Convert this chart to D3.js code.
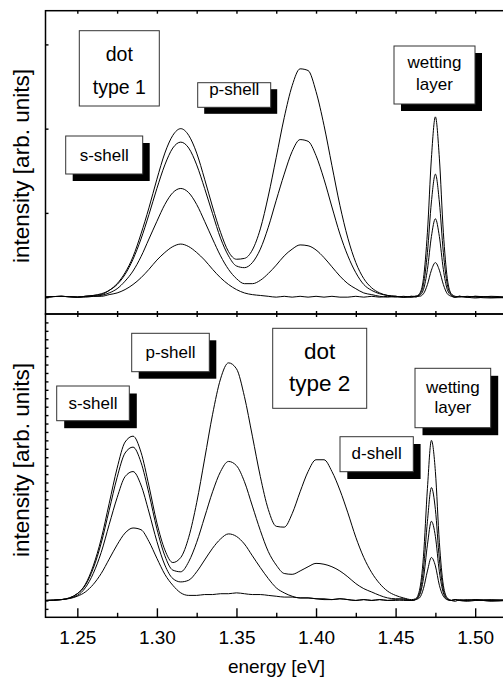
<!DOCTYPE html>
<html>
<head>
<meta charset="utf-8">
<script src="https://cdn.jsdelivr.net/npm/d3@7/dist/d3.min.js"></script>
<style>
body{margin:0;background:#fff}
svg{display:block;font-family:"Liberation Sans",Arial,sans-serif}
.trace{fill:none;stroke:#000;stroke-width:1;stroke-linejoin:round}
.tick line{stroke:#000;stroke-width:1.4}
</style>
</head>
<body>
<div id="container"></div>
<script>
// photon energy grid [eV], shared by all spectra
var energy = [1.23,1.24,1.25,1.255,1.26,1.265,1.27,1.275,1.28,1.285,
	1.29,1.295,1.30,1.305,1.31,1.315,1.32,1.325,1.33,1.335,
	1.34,1.345,1.35,1.355,1.36,1.365,1.37,1.375,1.38,1.385,
	1.39,1.395,1.40,1.405,1.41,1.415,1.42,1.425,1.43,1.435,
	1.44,1.445,1.45,1.455,1.46,1.4625,1.465,1.4675,1.47,1.4725,
	1.475,1.4775,1.48,1.4825,1.485,1.4875,1.49,1.495,1.50,1.51,1.52];

// dot type 1, four excitation powers (arb. units)
var top1 = [0.00,0.01,0.00,0.01,0.02,0.04,0.08,0.16,0.29,0.48,
	0.75,1.06,1.40,1.71,1.92,2.00,1.92,1.71,1.40,1.07,
	0.77,0.54,0.45,0.46,0.56,0.81,1.20,1.66,2.13,2.51,
	2.71,2.69,2.44,2.04,1.56,1.09,0.70,0.41,0.22,0.11,
	0.05,0.02,0.01,0.00,0.01,0.01,0.04,0.22,0.77,1.65,
	2.14,1.65,0.77,0.22,0.04,0.01,0.00,0.01,0.00,-0.01,0.00];
var top2 = [0.00,0.01,0.00,0.01,0.02,0.03,0.08,0.15,0.27,0.45,
	0.69,0.98,1.29,1.57,1.77,1.84,1.77,1.57,1.29,0.99,
	0.70,0.49,0.37,0.35,0.41,0.57,0.83,1.15,1.46,1.73,
	1.87,1.85,1.68,1.40,1.07,0.75,0.49,0.29,0.15,0.08,
	0.04,0.02,0.01,0.00,0.01,0.00,0.03,0.15,0.53,1.13,
	1.46,1.13,0.53,0.15,0.03,0.00,0.01,0.00,0.01,0.00,-0.01];
var top3 = [0.00,0.01,0.00,0.00,0.01,0.02,0.05,0.10,0.19,0.31,
	0.48,0.69,0.90,1.10,1.24,1.29,1.24,1.10,0.90,0.69,
	0.49,0.33,0.22,0.16,0.16,0.20,0.28,0.38,0.49,0.57,
	0.62,0.61,0.56,0.47,0.36,0.25,0.16,0.10,0.05,0.03,
	0.01,0.00,0.01,0.00,0.00,0.01,0.02,0.09,0.33,0.72,
	0.93,0.72,0.33,0.09,0.02,0.00,0.01,0.00,-0.01,0.01,0.00];
var top4 = [0.00,0.01,0.00,0.01,0.01,0.01,0.03,0.05,0.09,0.15,
	0.23,0.33,0.44,0.53,0.60,0.63,0.60,0.53,0.44,0.33,
	0.23,0.15,0.09,0.05,0.03,0.02,0.01,0.00,0.01,0.00,
	0.01,0.00,0.01,0.00,0.01,0.00,0.00,0.01,0.00,0.01,
	0.00,0.01,0.00,0.01,0.00,0.01,0.01,0.04,0.15,0.32,
	0.41,0.32,0.15,0.04,0.01,0.00,0.01,0.00,0.01,0.00,0.00];

// dot type 2
var bot1 = [0.00,0.01,0.08,0.19,0.41,0.73,1.15,1.57,1.88,1.95,
	1.76,1.36,0.92,0.60,0.45,0.51,0.75,1.16,1.68,2.21,
	2.63,2.82,2.75,2.42,1.95,1.47,1.08,0.88,0.87,1.03,
	1.29,1.53,1.67,1.67,1.53,1.31,1.04,0.75,0.51,0.33,
	0.20,0.11,0.06,0.03,0.01,0.02,0.12,0.52,1.33,1.90,
	1.53,0.69,0.18,0.03,0.00,0.01,0.00,-0.01,0.00,0.01,0.00];
var bot2 = [0.00,0.01,0.08,0.18,0.38,0.68,1.07,1.46,1.75,1.82,
	1.64,1.27,0.85,0.53,0.36,0.34,0.46,0.69,0.99,1.29,
	1.53,1.65,1.60,1.41,1.12,0.83,0.58,0.42,0.32,0.31,
	0.35,0.40,0.44,0.43,0.40,0.35,0.28,0.20,0.14,0.10,
	0.06,0.03,0.02,0.02,0.00,0.01,0.08,0.37,0.94,1.34,
	1.08,0.49,0.13,0.02,0.00,-0.01,0.01,0.00,0.01,0.00,0.00];
var bot3 = [0.00,0.01,0.06,0.15,0.32,0.57,0.90,1.22,1.47,1.53,
	1.37,1.05,0.70,0.42,0.26,0.22,0.24,0.34,0.48,0.62,
	0.73,0.79,0.76,0.67,0.53,0.39,0.26,0.15,0.09,0.05,
	0.03,0.03,0.02,0.01,0.01,0.02,0.01,0.00,0.01,0.00,
	0.01,0.00,0.01,0.00,0.00,0.01,0.06,0.26,0.66,0.94,
	0.76,0.34,0.09,0.01,0.00,0.01,0.00,0.00,0.01,-0.01,0.00];
var bot4 = [0.00,0.01,0.05,0.10,0.19,0.32,0.49,0.66,0.80,0.86,
	0.84,0.70,0.50,0.31,0.18,0.09,0.06,0.06,0.07,0.07,
	0.08,0.08,0.09,0.08,0.07,0.07,0.06,0.05,0.04,0.04,
	0.03,0.03,0.02,0.02,0.01,0.02,0.01,0.00,0.01,0.00,
	0.01,0.00,0.00,0.01,0.00,0.01,0.03,0.14,0.35,0.51,
	0.41,0.18,0.05,0.01,0.00,0.01,0.00,0.01,0.00,0.00,0.01];

var xMajor = [1.25,1.30,1.35,1.40,1.45,1.50];
var xMinor = [1.275,1.325,1.375,1.425,1.475];
var yTopTicks = [0,1,2,3];
var xTitle = "energy [eV]";
var yTitle = "intensity [arb. units]";

var width = 503, height = 679;
var left = 45.5, right = 507;
var topY0 = 10.7, midY = 314, botY1 = 617.3;

function init(){
	var svg = d3.select("#container").append("svg")
		.attr("width", width)
		.attr("height", height);

	var x = d3.scaleLinear().domain([1.23, 1.52]).range([left, right]);
	var yTop = d3.scaleLinear().domain([-0.2, 3.4]).range([midY, topY0]);
	var yBot = d3.scaleLinear().domain([-0.2, 3.4]).range([botY1, midY]);
	var xAll = xMajor.concat(xMinor);
	var yBotTicks = d3.range(-1, 34).map(function(v){ return v/10; });

	function noDomain(g){ g.select(".domain").remove(); }

	// small inward ticks on the top border and on the divider
	svg.append("g").attr("transform", "translate(0," + topY0 + ")")
		.call(d3.axisBottom(x).tickValues(xAll).tickSize(3).tickFormat(""))
		.call(noDomain);
	svg.append("g").attr("transform", "translate(0," + midY + ")")
		.call(d3.axisTop(x).tickValues(xAll).tickSize(3).tickFormat(""))
		.call(noDomain);
	svg.append("g").attr("transform", "translate(0," + midY + ")")
		.call(d3.axisBottom(x).tickValues(xAll).tickSize(3).tickFormat(""))
		.call(noDomain);

	// bottom energy axis
	svg.append("g").attr("transform", "translate(0," + botY1 + ")")
		.call(d3.axisTop(x).tickValues(xMajor).tickSize(9).tickFormat(""))
		.call(noDomain);
	svg.append("g").attr("transform", "translate(0," + botY1 + ")")
		.call(d3.axisTop(x).tickValues(xMinor).tickSize(4.5).tickFormat(""))
		.call(noDomain);
	svg.append("g").attr("transform", "translate(0," + botY1 + ")")
		.call(d3.axisBottom(x).tickValues(xMajor).tickSize(0).tickPadding(13).tickFormat(d3.format(".2f")))
		.call(noDomain)
		.selectAll("text")
		.style("font-size", "19px")
		.style("font-family", "Liberation Sans, Arial, sans-serif")
		.attr("fill", "#000");

	// intensity axes, ticks only
	svg.append("g").attr("transform", "translate(" + left + ",0)")
		.call(d3.axisRight(yTop).tickValues(yTopTicks).tickSize(3).tickFormat(""))
		.call(noDomain);
	svg.append("g").attr("transform", "translate(" + left + ",0)")
		.call(d3.axisRight(yBot).tickValues(yBotTicks).tickSize(3).tickFormat(""))
		.call(noDomain);

	// spectra
	var lineTop = d3.line()
		.x(function(d, i){ return x(energy[i]); })
		.y(function(d){ return yTop(d); })
		.curve(d3.curveMonotoneX);
	var lineBot = d3.line()
		.x(function(d, i){ return x(energy[i]); })
		.y(function(d){ return yBot(d); })
		.curve(d3.curveMonotoneX);

	svg.append("g").selectAll("path")
		.data([top4, top3, top2, top1]).enter()
		.append("path")
		.attr("class", "trace")
		.attr("d", lineTop);
	svg.append("g").selectAll("path")
		.data([bot4, bot3, bot2, bot1]).enter()
		.append("path")
		.attr("class", "trace")
		.attr("d", lineBot);

	// frames
	svg.append("rect")
		.attr("x", left).attr("y", topY0)
		.attr("width", right - left).attr("height", midY - topY0)
		.style("fill", "none").style("stroke", "#000").style("stroke-width", 1.5);
	svg.append("rect")
		.attr("x", left).attr("y", midY)
		.attr("width", right - left).attr("height", botY1 - midY)
		.style("fill", "none").style("stroke", "#000").style("stroke-width", 1.5);

	// labels in boxes
	note(svg, 79.3, 30.7, 80, 75.3, ["dot", "type 1"], 19.5, 60.5, 33.7, 0);
	note(svg, 65.7, 136, 77, 38, ["s-shell"], 17, 160.5, 0, 7);
	note(svg, 197.7, 82.7, 73, 24.6, ["p-shell"], 17, 95, 0, 6.5);
	note(svg, 394, 46, 81, 58, ["wetting", "layer"], 17, 68.3, 21.4, 7);

	note(svg, 131.7, 333.3, 77.6, 38.4, ["p-shell"], 17, 358.3, 0, 7);
	note(svg, 56.7, 386, 72.6, 34.7, ["s-shell"], 17, 409.3, 0, 7.5);
	note(svg, 272.7, 328.3, 94, 80, ["dot", "type 2"], 22.5, 359.3, 31.7, 0);
	note(svg, 415, 368.3, 75.7, 59.4, ["wetting", "layer"], 17, 392.7, 20.6, 7.5);
	note(svg, 340, 436.7, 73.3, 35, ["d-shell"], 17, 459.3, 0, 7.3);

	// axis titles
	svg.append("text")
		.attr("x", 276.5).attr("y", 673)
		.style("text-anchor", "middle")
		.style("font-size", "19px")
		.text(xTitle);
	svg.append("text")
		.attr("transform", "translate(28.5,166) rotate(-90)")
		.style("text-anchor", "middle")
		.style("font-size", "22.5px")
		.text(yTitle);
	svg.append("text")
		.attr("transform", "translate(28.5,460) rotate(-90)")
		.style("text-anchor", "middle")
		.style("font-size", "22.5px")
		.text(yTitle);
}

function note(svg, bx, by, bw, bh, lines, size, base, step, shadow){
	var g = svg.append("g");
	if (shadow > 0)
		g.append("rect")
			.attr("x", bx + shadow).attr("y", by + shadow)
			.attr("width", bw).attr("height", bh)
			.style("fill", "#000");
	g.append("rect")
		.attr("x", bx).attr("y", by)
		.attr("width", bw).attr("height", bh)
		.style("fill", "#fff").style("stroke", "#333").style("stroke-width", 1);
	lines.forEach(function(t, i){
		g.append("text")
			.attr("x", bx + bw/2).attr("y", base + i*step)
			.style("text-anchor", "middle")
			.style("font-size", size + "px")
			.text(t);
	});
}

init();
</script>
</body>
</html>
